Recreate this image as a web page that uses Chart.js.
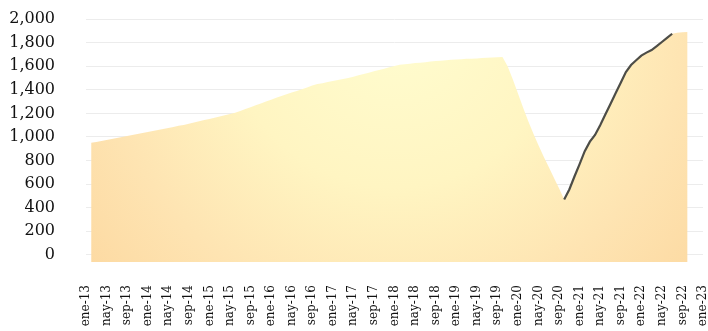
<!DOCTYPE html>
<html>
<head>
<meta charset="utf-8">
<script src="https://cdn.jsdelivr.net/npm/chart.js@4/dist/chart.umd.min.js"></script>
<style>
  html, body { margin: 0; padding: 0; background: #ffffff; }
  #wrap { width: 708px; height: 331px; position: relative; }
</style>
</head>
<body>
<div id="wrap"><canvas id="c"></canvas></div>
<script>
// ---- Data ----
const months = [
  'ene-13','feb-13','mar-13','abr-13','may-13','jun-13','jul-13','ago-13','sep-13','oct-13','nov-13','dic-13',
  'ene-14','feb-14','mar-14','abr-14','may-14','jun-14','jul-14','ago-14','sep-14','oct-14','nov-14','dic-14',
  'ene-15','feb-15','mar-15','abr-15','may-15','jun-15','jul-15','ago-15','sep-15','oct-15','nov-15','dic-15',
  'ene-16','feb-16','mar-16','abr-16','may-16','jun-16','jul-16','ago-16','sep-16','oct-16','nov-16','dic-16',
  'ene-17','feb-17','mar-17','abr-17','may-17','jun-17','jul-17','ago-17','sep-17','oct-17','nov-17','dic-17',
  'ene-18','feb-18','mar-18','abr-18','may-18','jun-18','jul-18','ago-18','sep-18','oct-18','nov-18','dic-18',
  'ene-19','feb-19','mar-19','abr-19','may-19','jun-19','jul-19','ago-19','sep-19','oct-19','nov-19','dic-19',
  'ene-20','feb-20','mar-20','abr-20','may-20','jun-20','jul-20','ago-20','sep-20','oct-20','nov-20','dic-20',
  'ene-21','feb-21','mar-21','abr-21','may-21','jun-21','jul-21','ago-21','sep-21','oct-21','nov-21','dic-21',
  'ene-22','feb-22','mar-22','abr-22','may-22','jun-22','jul-22','ago-22','sep-22','oct-22','nov-22','dic-22',
  'ene-23'
];
// shown tick labels (every 4 months)
const tickLabels = [
  'ene-13','nay-13','sep-13','ene-14','nay-14','sep-14','ene-15','nay-15','sep-15','ene-16','nay-16','sep-16',
  'ene-17','nay-17','sep-17','ene-18','nay-18','sep-18','ene-19','nay-19','sep-19','ene-20','nay-20','sep-20',
  'ene-21','nay-21','sep-21','ene-22','nay-22','sep-22','ene-23'
];
const yTicks = [0,200,400,600,800,1000,1200,1400,1600,1800,2000];

// area series: feb-13 .. oct-22
const areaStart = 'feb-13';
const areaValues = [
  950,958,966,975,983,992,1000,1009,1017,1026,1034,
  1043,1051,1060,1068,1077,1085,1094,1102,1112,1122,1133,1143,
  1153,1163,1174,1184,1195,1205,1220,1236,1252,1268,1284,1300,
  1316,1332,1348,1362,1376,1390,1405,1420,1436,1448,1456,1465,
  1474,1483,1492,1500,1511,1523,1534,1545,1557,1568,1579,1591,
  1602,1612,1617,1621,1626,1630,1634,1639,1643,1647,1651,1655,
  1657,1659,1662,1664,1666,1669,1671,1673,1676,1678,1600,1490,
  1370,1250,1135,1030,930,835,745,655,565,470,555,665,
  770,880,960,1017,1100,1190,1280,1370,1460,1550,1610,1650,
  1690,1715,1737,1770,1805,1840,1875,1883,1887,1890
];
// line series: oct-20 .. jul-22
const lineStart = 'oct-20';
const lineValues = [
  470,555,665,770,880,960,1017,1100,1190,1280,1370,1460,1550,1610,1650,
  1690,1715,1737,1770,1805,1840,1875
];

function placeSeries(startLabel, values) {
  const out = months.map(() => null);
  const s = months.indexOf(startLabel);
  values.forEach((v, k) => { out[s + k] = v; });
  return out;
}

const areaData = placeSeries(areaStart, areaValues);
const lineData = placeSeries(lineStart, lineValues);

function areaFill(context) {
  const chart = context.chart;
  const area = chart.chartArea;
  if (!area) return '#fff3c0';
  const c = chart.ctx;
  const cx = area.left + (area.right - area.left) * 0.5;
  const cy = area.top;
  const r = 420;
  const g = c.createRadialGradient(cx, cy, 0, cx, cy, r);
  g.addColorStop(0, '#fffdd0');
  g.addColorStop(0.4, '#fff5c2');
  g.addColorStop(0.7, '#fee4b2');
  g.addColorStop(1, '#fcd79e');
  return g;
}

new Chart(document.getElementById('c'), {
  type: 'line',
  data: {
    labels: months,
    datasets: [
      {
        data: lineData,
        borderColor: '#4d4d47',
        borderWidth: 2.2,
        pointRadius: 0,
        fill: false,
        tension: 0,
        order: 0
      },
      {
        data: areaData,
        borderWidth: 0,
        borderColor: 'rgba(0,0,0,0)',
        backgroundColor: areaFill,
        pointRadius: 0,
        fill: 'start',
        tension: 0,
        order: 1
      }
    ]
  },
  options: {
    responsive: true,
    maintainAspectRatio: false,
    animation: false,
    layout: { padding: { left: 8, right: 0, top: 19, bottom: 0 } },
    plugins: { legend: { display: false }, tooltip: { enabled: false } },
    scales: {
      x: {
        afterFit: function (scale) {
          scale.height = 69;
          scale.paddingLeft = 0;
          scale.paddingRight = 5;
        },
        grid: { display: false },
        border: { display: false },
        ticks: {
          autoSkip: false,
          minRotation: 90,
          maxRotation: 90,
          padding: 15,
          color: '#111',
          font: { family: 'DejaVu Serif', size: 12 },
          callback: function (val, idx) {
            return idx % 4 === 0 ? tickLabels[idx / 4] : '';
          }
        }
      },
      y: {
        min: -60,
        max: 2000,
        afterBuildTicks: function (scale) {
          scale.ticks = yTicks.map(v => ({ value: v }));
        },
        afterFit: function (scale) {
          scale.width = 78;
          scale.paddingTop = 8;
          scale.paddingBottom = 0;
        },
        grid: { color: '#ececec', lineWidth: 1, drawTicks: false },
        border: { display: false },
        ticks: {
          autoSkip: false,
          padding: 31,
          color: '#111',
          font: { family: 'DejaVu Serif', size: 16 },
          callback: function (v) { return v.toLocaleString('en-US'); }
        }
      }
    }
  }
});
</script>
</body>
</html>
